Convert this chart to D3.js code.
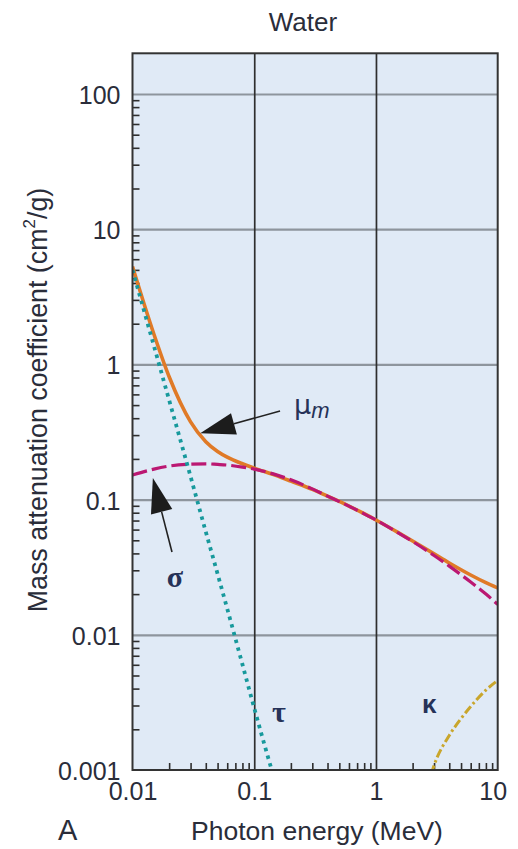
<!DOCTYPE html>
<html><head><meta charset="utf-8">
<script src="https://cdn.jsdelivr.net/npm/d3@7"></script>
<style>
html,body{margin:0;padding:0;background:#fff;}
svg{display:block;font-family:"Liberation Sans",Arial,Helvetica,sans-serif;}
</style></head>
<body>
<svg id="chart" width="518" height="849"></svg>
<script>
// ---- data ----
const energyMu = [0.01,0.015,0.02,0.03,0.04,0.05,0.06,0.08,0.1,0.15,0.2,0.3,0.4,0.5,0.6,0.8,1,1.5,2,3,4,5,6,8,10];
const muValues = [5.3,1.67,0.81,0.376,0.268,0.227,0.206,0.184,0.171,0.151,0.137,0.119,0.106,0.0969,0.0896,0.0787,0.0707,0.0575,0.0494,0.0397,0.034,0.0303,0.0277,0.0243,0.0222];
const energySigma = [0.01,0.015,0.02,0.03,0.04,0.05,0.06,0.08,0.1,0.15,0.2,0.3,0.4,0.5,0.6,0.8,1,1.5,2,3,4,5,6,8,10];
const sigmaValues = [0.152,0.168,0.177,0.183,0.184,0.182,0.18,0.174,0.168,0.153,0.14,0.12,0.106,0.0966,0.0894,0.0785,0.0707,0.0573,0.049,0.0386,0.0322,0.0278,0.0246,0.02,0.0168];
const energyTau = [0.01,0.015,0.02,0.03,0.04,0.05,0.06,0.08,0.1,0.15];
const tauValues = [5.0,1.37,0.544,0.148,0.0578,0.0282,0.0156,0.00604,0.00287,0.00079];
const energyKappa = [2.6,3,4,5,6,8,10];
const kappaValues = [0.0007,0.00108,0.0018,0.0024,0.00295,0.0039,0.0046];
const xTicks = [0.01,0.1,1,10];
const xTickLabels = ["0.01","0.1","1","10"];
const yTicks = [0.001,0.01,0.1,1,10,100];
const yTickLabels = ["0.001","0.01","0.1","1","10","100"];

// ---- layout ----
const L = 132.5, R = 497.7, T = 53.3, B = 770;
const svg = d3.select("#chart");
const x = d3.scaleLog().domain([0.01,10]).range([L,R]);
const y = d3.scaleLog().domain([0.001,200]).range([B,T]);

// background
svg.append("rect").attr("x",L).attr("y",T).attr("width",R-L).attr("height",B-T).attr("fill","#e0eaf6");

// horizontal grid
svg.append("g").attr("transform",`translate(${L},0)`)
  .call(d3.axisLeft(y).tickValues([0.01,0.1,1,10,100]).tickSize(-(R-L)).tickFormat(""))
  .call(g=>g.select(".domain").remove())
  .call(g=>g.selectAll("line").attr("stroke","#8e959d").attr("stroke-width",2.2));
// vertical grid
svg.append("g").attr("transform",`translate(0,${B})`)
  .call(d3.axisBottom(x).tickValues([0.1,1]).tickSize(-(B-T)).tickFormat(""))
  .call(g=>g.select(".domain").remove())
  .call(g=>g.selectAll("line").attr("stroke","#2e2e2e").attr("stroke-width",1.7));

// minor ticks
const yMinor = [];
[0.001,0.01,0.1,1,10].forEach(d=>{for(let k=2;k<=9;k++) yMinor.push(d*k);});
const xMinor = [];
[0.01,0.1,1].forEach(d=>{for(let k=2;k<=9;k++) xMinor.push(d*k);});
svg.append("g").attr("transform",`translate(${L},0)`)
  .call(d3.axisLeft(y).tickValues(yMinor).tickSizeInner(-7).tickSizeOuter(0).tickFormat(""))
  .call(g=>g.select(".domain").remove())
  .call(g=>g.selectAll("line").attr("stroke","#2e2e2e").attr("stroke-width",1.6));
svg.append("g").attr("transform",`translate(0,${B})`)
  .call(d3.axisBottom(x).tickValues(xMinor).tickSizeInner(-7).tickSizeOuter(0).tickFormat(""))
  .call(g=>g.select(".domain").remove())
  .call(g=>g.selectAll("line").attr("stroke","#2e2e2e").attr("stroke-width",1.6));

// clip
svg.append("clipPath").attr("id","plotclip").append("rect")
  .attr("x",L).attr("y",T).attr("width",R-L).attr("height",B-T);
const plot = svg.append("g").attr("clip-path","url(#plotclip)");
const line = d3.line().x(d=>x(d[0])).y(d=>y(d[1])).curve(d3.curveMonotoneX);

plot.append("path").datum(energyMu.map((e,i)=>[e,muValues[i]]))
  .attr("d",line).attr("fill","none").attr("stroke","#e07a27").attr("stroke-width",3.6);
plot.append("path").datum(energySigma.map((e,i)=>[e,sigmaValues[i]]))
  .attr("d",line).attr("fill","none").attr("stroke","#bb1872").attr("stroke-width",3.2)
  .attr("stroke-dasharray","15,5");
plot.append("path").datum(energyTau.map((e,i)=>[e,tauValues[i]]))
  .attr("d",line).attr("fill","none").attr("stroke","#17999c").attr("stroke-width",3.8)
  .attr("stroke-dasharray","3.5,4.5");
plot.append("path").datum(energyKappa.map((e,i)=>[e,kappaValues[i]]))
  .attr("d",line).attr("fill","none").attr("stroke","#c9a62c").attr("stroke-width",3)
  .attr("stroke-dasharray","9,3,2.5,3");

// border
svg.append("rect").attr("x",L).attr("y",T).attr("width",R-L).attr("height",B-T)
  .attr("fill","none").attr("stroke","#333").attr("stroke-width",2);

// tick labels
const txtColor = "#2a2d3a";
svg.append("g").attr("transform",`translate(${L},0)`)
  .call(d3.axisLeft(y).tickValues(yTicks).tickSize(0).tickPadding(12).tickFormat((d,i)=>yTickLabels[i]))
  .call(g=>g.select(".domain").remove())
  .call(g=>g.selectAll("text").attr("font-size",25).attr("fill",txtColor).attr("font-family","Liberation Sans, Arial, sans-serif").attr("dy","0.38em"));
svg.append("g").attr("transform",`translate(0,${B})`)
  .call(d3.axisBottom(x).tickValues(xTicks).tickSize(0).tickPadding(12).tickFormat((d,i)=>xTickLabels[i]))
  .call(g=>g.select(".domain").remove())
  .call(g=>g.selectAll("text").attr("font-size",25).attr("fill",txtColor).attr("font-family","Liberation Sans, Arial, sans-serif"))
  .call(g=>g.selectAll(".tick").filter(d=>d===10).select("text").attr("dx",-5));

// titles
svg.append("text").attr("x",303).attr("y",31).attr("text-anchor","middle")
  .attr("font-size",26).attr("fill",txtColor).text("Water");
svg.append("text").attr("x",317).attr("y",840).attr("text-anchor","middle")
  .attr("font-size",26.5).attr("fill",txtColor).text("Photon energy (MeV)");
svg.append("text").attr("x",58).attr("y",840)
  .attr("font-size",29).attr("fill",txtColor).text("A");
const yt = svg.append("text").attr("transform","translate(47,400) rotate(-90)").attr("text-anchor","middle")
  .attr("font-size",26.8).attr("fill",txtColor);
yt.append("tspan").text("Mass attenuation coefficient (cm");
yt.append("tspan").attr("font-size",17).attr("dy",-12).text("2");
yt.append("tspan").attr("dy",12).text("/g)");

// annotations
function arrow(tail, tip){
  const x0=x(tail[0]), y0=y(tail[1]), x1=x(tip[0]), y1=y(tip[1]);
  const dx=x0-x1, dy=y0-y1, len=Math.hypot(dx,dy), ux=dx/len, uy=dy/len;
  const hl=35, hw=11;
  const bx=x1+ux*hl, by=y1+uy*hl;
  svg.append("line").attr("x1",x0).attr("y1",y0).attr("x2",bx).attr("y2",by)
    .attr("stroke","#222").attr("stroke-width",1.6);
  svg.append("path").attr("d",`M${x1},${y1}L${bx-uy*hw},${by+ux*hw}L${bx+uy*hw},${by-ux*hw}Z`)
    .attr("fill","#1c1c1c");
}
arrow([0.163,0.452],[0.036,0.31]);
arrow([0.0211,0.041],[0.0147,0.1445]);

const lblColor = "#263258";
const mu = svg.append("text").attr("x",x(0.2124)).attr("y",y(0.43)).attr("fill",lblColor)
  .attr("font-size",27).attr("font-family","DejaVu Sans, sans-serif");
mu.append("tspan").text("μ");
mu.append("tspan").attr("font-size",22).attr("font-style","italic").attr("dy",4).attr("font-family","Liberation Sans, sans-serif").text("m");
svg.append("text").attr("x",x(0.0223)).attr("y",y(0.0224)).attr("text-anchor","middle")
  .attr("fill",lblColor).attr("font-size",30).attr("font-weight","bold").attr("font-family","Liberation Serif, serif").text("σ");
svg.append("text").attr("x",x(0.14)).attr("y",y(0.00225)).attr("fill",lblColor)
  .attr("font-size",30).attr("font-weight","bold").attr("font-family","Liberation Serif, serif").text("τ");
svg.append("text").attr("x",x(2.39)).attr("y",y(0.00265)).attr("fill",lblColor)
  .attr("font-size",26).attr("font-weight","bold").attr("font-family","Liberation Sans, sans-serif").text("κ");
</script>
</body></html>
